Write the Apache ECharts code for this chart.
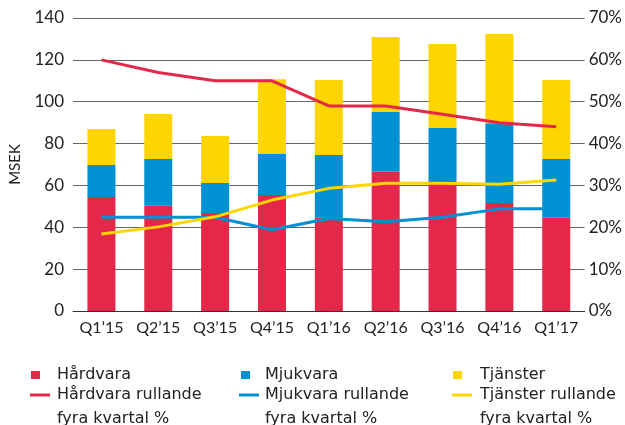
<!DOCTYPE html>
<html>
<head>
<meta charset="utf-8">
<script src="https://cdn.jsdelivr.net/npm/echarts@6/dist/echarts.min.js"></script>
<style>
  html, body { margin: 0; padding: 0; background: #fff; }
  #chart { width: 625px; height: 425px; }
</style>
</head>
<body>
<div id="chart"></div>
<script>
// kvartal
var quarters = ["Q1\u201915", "Q2\u201915", "Q3\u201915", "Q4\u201915", "Q1\u201916", "Q2\u201916", "Q3\u201916", "Q4\u201916", "Q1\u201917"];

// MSEK per kvartal (staplade)
var hardvara = [54.5, 50.3, 46.8, 55.4, 44.8, 66.6, 62.1, 51.6, 44.6];
var mjukvara = [15.3, 22.3, 14.4, 19.6, 29.7, 28.5, 25.3, 38.1, 28.0];
var tjanster = [17.2, 21.5, 22.4, 35.7, 35.9, 35.8, 40.2, 42.6, 37.8];

// rullande fyra kvartal, %
var hardvaraPct = [60, 57, 55, 55, 49, 49, 47, 45, 44];
var mjukvaraPct = [22.4, 22.4, 22.4, 19.4, 22.1, 21.3, 22.4, 24.4, 24.4];
var tjansterPct = [18.4, 20.1, 22.5, 26.5, 29.3, 30.5, 30.5, 30.3, 31.3];

var leftTicks = [0, 20, 40, 60, 80, 100, 120, 140];

var RED = '#e4284a', BLUE = '#0090d4', YELLOW = '#ffd500';
var FONT = 'Lato';
var LEGFONT = 'DejaVu Sans';
var TXT = '#222';

var lineNames = ['H\u00e5rdvara rullande\nfyra kvartal %', 'Mjukvara rullande\nfyra kvartal %', 'Tj\u00e4nster rullande\nfyra kvartal %'];

function barLegend(name, left, gap) {
    return {
        left: left, top: 365, padding: 0, itemWidth: 9, itemHeight: 8, icon: 'rect',
        selectedMode: false,
        data: [name],
        textStyle: { fontFamily: LEGFONT, fontSize: 16, color: TXT, lineHeight: 20, padding: [0, 0, 0, gap] }
    };
}
// tom första rad så att linjen hamnar i höjd med textens första rad
function lineLegend(name, left, gap) {
    return {
        left: left, top: 359, padding: 0, itemWidth: 20, itemHeight: 3, icon: 'rect',
        selectedMode: false,
        data: [name],
        formatter: function (n) { return '\n' + n; },
        textStyle: { fontFamily: LEGFONT, fontSize: 16, color: TXT, lineHeight: 24, padding: [0, 0, 0, gap] }
    };
}

var chart = echarts.init(document.getElementById('chart'));
chart.setOption({
    animation: false,
    textStyle: { fontFamily: FONT },
    grid: { left: 67, right: 40, top: 18, bottom: 114, containLabel: false },
    legend: [
        barLegend('H\u00e5rdvara', 31, 12),
        barLegend('Mjukvara', 241, 10),
        barLegend('Tj\u00e4nster', 453, 13),
        lineLegend(lineNames[0], 30, 2),
        lineLegend(lineNames[1], 239, 1),
        lineLegend(lineNames[2], 452, 3)
    ],
    xAxis: {
        type: 'category',
        data: quarters,
        axisLine: { lineStyle: { color: '#333', width: 1 } },
        axisTick: { show: false },
        axisLabel: { fontFamily: FONT, fontSize: 16, color: TXT, margin: 9, interval: 0 }
    },
    yAxis: [
        {
            type: 'value', min: 0, max: leftTicks[leftTicks.length - 1], interval: 20,
            name: 'MSEK', nameLocation: 'middle', nameGap: 50, nameRotate: 90,
            nameTextStyle: { fontFamily: FONT, fontSize: 15, color: TXT },
            axisLine: { show: false }, axisTick: { show: false },
            axisLabel: { fontFamily: FONT, fontSize: 17, color: TXT, margin: 9 },
            splitLine: { lineStyle: { color: '#666', width: 1 } }
        },
        {
            type: 'value', min: 0, max: 70, interval: 10,
            axisLine: { show: false }, axisTick: { show: false },
            axisLabel: { fontFamily: FONT, fontSize: 17, color: TXT, margin: 4, formatter: '{value}%' },
            splitLine: { show: false }
        }
    ],
    series: [
        { name: 'H\u00e5rdvara', type: 'bar', stack: 'tot', barWidth: 28, data: hardvara, itemStyle: { color: RED } },
        { name: 'Mjukvara', type: 'bar', stack: 'tot', barWidth: 28, data: mjukvara, itemStyle: { color: BLUE } },
        { name: 'Tj\u00e4nster', type: 'bar', stack: 'tot', barWidth: 28, data: tjanster, itemStyle: { color: YELLOW } },
        { name: lineNames[1], type: 'line', yAxisIndex: 1, data: mjukvaraPct, showSymbol: false, symbol: 'none',
          lineStyle: { color: BLUE, width: 3 }, itemStyle: { color: BLUE } },
        { name: lineNames[2], type: 'line', yAxisIndex: 1, data: tjansterPct, showSymbol: false, symbol: 'none',
          lineStyle: { color: YELLOW, width: 3 }, itemStyle: { color: YELLOW } },
        { name: lineNames[0], type: 'line', yAxisIndex: 1, data: hardvaraPct, showSymbol: false, symbol: 'none',
          lineStyle: { color: RED, width: 3 }, itemStyle: { color: RED } }
    ]
});
</script>
</body>
</html>
